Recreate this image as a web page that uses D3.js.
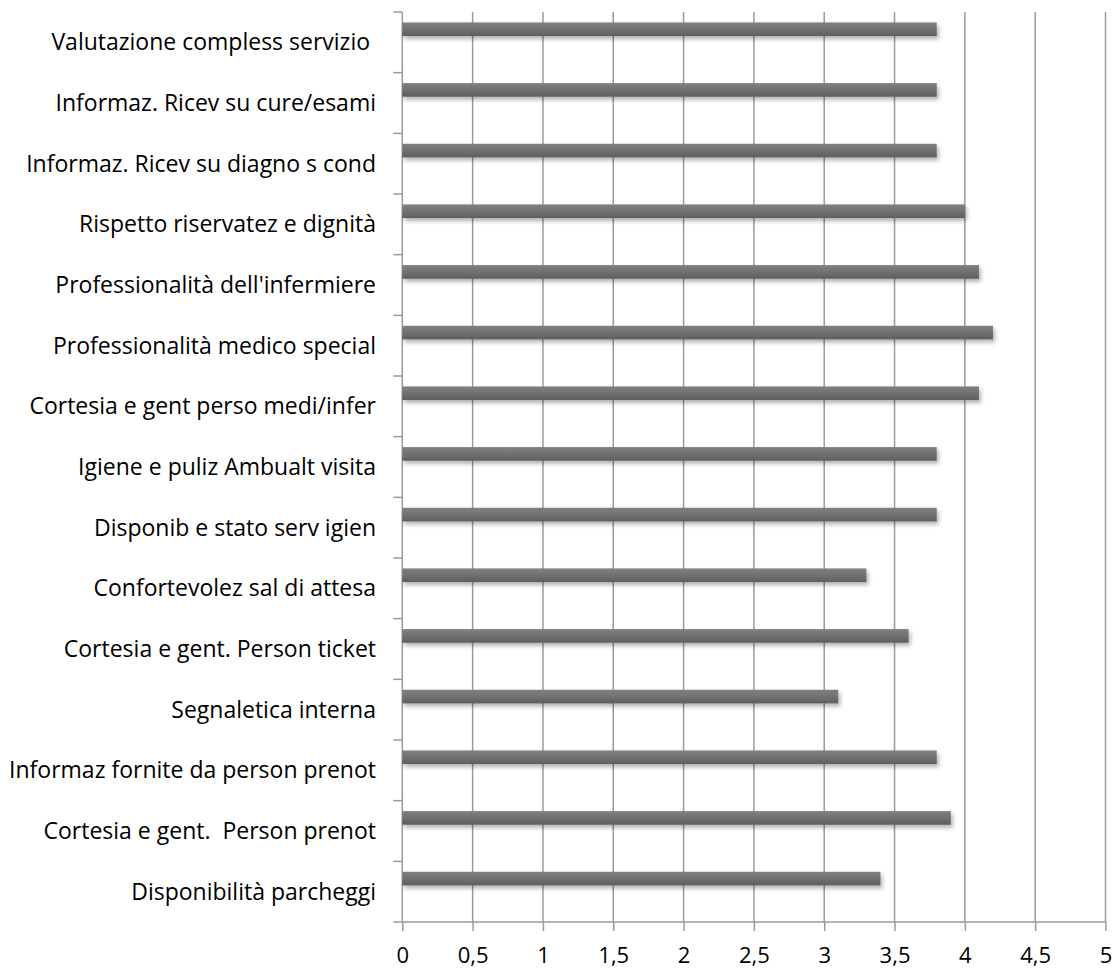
<!DOCTYPE html>
<html><head><meta charset="utf-8">
<script src="https://cdn.jsdelivr.net/npm/d3@7"></script>
<style>
html,body{margin:0;padding:0;background:#fff;}
svg{display:block;}
text{font-family:"Open Sans", Lato, sans-serif;fill:#000;}
</style></head>
<body>
<script>
// Categories listed top to bottom as shown
const categories = [
  "Valutazione compless servizio\u00a0",
  "Informaz. Ricev su cure/esami",
  "Informaz. Ricev su diagno s cond",
  "Rispetto riservatez e dignità",
  "Professionalità dell'infermiere",
  "Professionalità medico special",
  "Cortesia e gent perso medi/infer",
  "Igiene e puliz Ambualt visita",
  "Disponib e stato serv igien",
  "Confortevolez sal di attesa",
  "Cortesia e gent. Person ticket",
  "Segnaletica interna",
  "Informaz fornite da person prenot",
  "Cortesia e gent.\u00a0 Person prenot",
  "Disponibilità parcheggi"
];
const values = [3.8, 3.8, 3.8, 4.0, 4.1, 4.2, 4.1, 3.8, 3.8, 3.3, 3.6, 3.1, 3.8, 3.9, 3.4];
const xTicks = [0, 0.5, 1, 1.5, 2, 2.5, 3, 3.5, 4, 4.5, 5];
const xTickLabels = ["0", "0,5", "1", "1,5", "2", "2,5", "3", "3,5", "4", "4,5", "5"];

const W = 1116, H = 968;
const mLeft = 402.3, mRight = 1105.5, mTop = 12, mBottom = 922;

const svg = d3.select("body").append("svg").attr("width", W).attr("height", H);
const defs = svg.append("defs");
const grad = defs.append("linearGradient").attr("id", "barGrad")
  .attr("x1", 0).attr("y1", 0).attr("x2", 0).attr("y2", 1);
grad.append("stop").attr("offset", "0%").attr("stop-color", "#808080");
grad.append("stop").attr("offset", "50%").attr("stop-color", "#717171");
grad.append("stop").attr("offset", "100%").attr("stop-color", "#5e5e5e");
const f = defs.append("filter").attr("id", "shadow")
  .attr("x", "-5%").attr("y", "-50%").attr("width", "110%").attr("height", "250%");
f.append("feDropShadow").attr("dx", 2).attr("dy", 3).attr("stdDeviation", 2)
  .attr("flood-color", "#000").attr("flood-opacity", 0.3);

const x = d3.scaleLinear().domain([0, 5]).range([mLeft, mRight]);
const y = d3.scaleBand().domain(categories).range([mTop, mBottom]).padding(0);

const gridColor = "#9a9a9a";
const fontSize = 23;

// vertical gridlines
svg.append("g").selectAll("line").data(xTicks.slice(1)).join("line")
  .attr("x1", d => x(d)).attr("x2", d => x(d))
  .attr("y1", mTop).attr("y2", mBottom)
  .attr("stroke", gridColor).attr("stroke-width", 1.5);

// x axis
const xAxis = d3.axisBottom(x).tickValues(xTicks)
  .tickFormat((d, i) => xTickLabels[i]).tickSize(9).tickPadding(16);
const gx = svg.append("g").attr("transform", `translate(0,${mBottom})`).call(xAxis);
gx.select(".domain").attr("stroke", gridColor).attr("stroke-width", 1.5)
  .attr("d", `M${mLeft},0H${mRight}`);
gx.selectAll(".tick line").attr("stroke", gridColor).attr("stroke-width", 1.5);
gx.selectAll(".tick text").attr("font-size", 22).attr("fill", "#000")
  .attr("font-family", "'Open Sans', Lato, sans-serif");

// y axis: line + ticks at band boundaries
const gy = svg.append("g");
gy.append("line").attr("x1", mLeft).attr("x2", mLeft).attr("y1", mTop).attr("y2", mBottom)
  .attr("stroke", gridColor).attr("stroke-width", 1.5);
const bounds = categories.map(c => y(c)).concat([mBottom]);
gy.selectAll("line.tk").data(bounds).join("line").attr("class", "tk")
  .attr("x1", mLeft - 9).attr("x2", mLeft).attr("y1", d => d).attr("y2", d => d)
  .attr("stroke", gridColor).attr("stroke-width", 1.5);
gy.selectAll("text").data(categories).join("text")
  .attr("x", 376).attr("y", d => y(d) + y.bandwidth() / 2)
  .attr("dy", "0.35em").attr("text-anchor", "end")
  .attr("font-size", fontSize)
  .text(d => d);

// bars
const bw = y.bandwidth();
svg.append("g").selectAll("rect").data(categories).join("rect")
  .attr("x", x(0))
  .attr("y", d => y(d) + bw * 0.172)
  .attr("width", (d, i) => x(values[i]) - x(0))
  .attr("height", bw * 0.225)
  .attr("fill", "url(#barGrad)")
  .attr("filter", "url(#shadow)");
</script>
</body></html>
